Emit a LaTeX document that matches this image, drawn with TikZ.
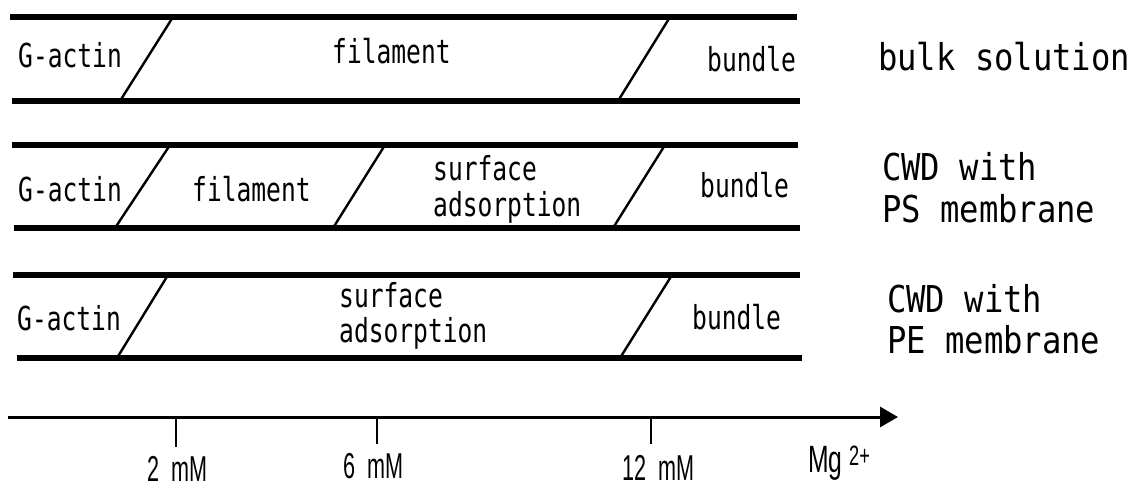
\documentclass[tikz,border=0pt]{standalone}
\usepackage{fontspec}
\newfontfamily\smallmono[FakeStretch=0.745]{DejaVu Sans Mono}
\newfontfamily\bigmono[FakeStretch=0.87]{DejaVu Sans Mono}
\newfontfamily\axisfont[FakeStretch=0.6,WordSpace=2]{Liberation Sans}
\newfontfamily\mgfont[FakeStretch=0.65]{Liberation Sans}
\usetikzlibrary{arrows.meta}
\begin{document}
\begin{tikzpicture}[x=1pt,y=-1pt,
  band/.style={line width=6.5pt},
  phase/.style={line width=2.4pt},
  lbl/.style={anchor=base west,inner sep=0pt,font=\smallmono\fontsize{33}{36}\selectfont},
  cond/.style={anchor=base west,inner sep=0pt,font=\bigmono\fontsize{37}{40}\selectfont},
  ticklbl/.style={anchor=base west,inner sep=0pt,font=\axisfont\fontsize{36}{38}\selectfont},
  axisline/.style={line width=3pt,-{Triangle[length=18pt,width=20pt]}},
  tickmark/.style={line width=2.5pt}]
\useasboundingbox (0,0) rectangle (1133,488);
% band 1: bulk solution
\draw[band] (10,17) -- (797,17);
\draw[band] (12,101) -- (800,101);
\draw[phase] (120,101) -- (173,17);
\draw[phase] (618,101) -- (670,17);
\node[lbl] (ga1) at (18,67) {G-actin};
\node[lbl] (fil1) at (332,63) {filament};
\node[lbl] (bun1) at (707,71) {bundle};
\node[cond] (bulk) at (878,70) {bulk solution};
% band 2: PS membrane
\draw[band] (12,145) -- (798,145);
\draw[band] (14,228) -- (800,228);
\draw[phase] (115,228) -- (170,145);
\draw[phase] (333,228) -- (385,145);
\draw[phase] (613,228) -- (665,145);
\node[lbl] (ga2) at (18,201) {G-actin};
\node[lbl] (fil2) at (192,201) {filament};
\node[lbl] (sur2) at (433,180) {surface};
\node[lbl] (ads2) at (433,216) {adsorption};
\node[lbl] (bun2) at (700,197) {bundle};
\node[cond] (cwd2) at (882,180) {CWD with};
\node[cond] (ps) at (882,222) {PS membrane};
% band 3: PE membrane
\draw[band] (13,275) -- (800,275);
\draw[band] (17,358) -- (802,358);
\draw[phase] (117,358) -- (168,275);
\draw[phase] (620,358) -- (672,275);
\node[lbl] (ga3) at (17,330) {G-actin};
\node[lbl] (sur3) at (339,307) {surface};
\node[lbl] (ads3) at (339,342) {adsorption};
\node[lbl] (bun3) at (692,329) {bundle};
\node[cond] (cwd3) at (887,312) {CWD with};
\node[cond] (pe) at (887,353) {PE membrane};
% axis
\coordinate (ax0) at (8,417);
\coordinate (ax1) at (898,417);
\draw[axisline] (ax0) -- (ax1);
\draw[tickmark] (176,417) -- (176,447);
\draw[tickmark] (377,417) -- (377,444);
\draw[tickmark] (651,417) -- (651,444);
\node[ticklbl] (t2) at (147,481) {2 mM};
\node[ticklbl] (t6) at (343,478) {6 mM};
\node[ticklbl] (t12) at (622,480) {12 mM};
\node[ticklbl,font=\mgfont\fontsize{38}{40}\selectfont] (mg) at (808,472) {Mg};
\node[ticklbl,font=\mgfont\fontsize{28}{30}\selectfont] (chg) at (849,465) {2+};
\end{tikzpicture}
\end{document}
